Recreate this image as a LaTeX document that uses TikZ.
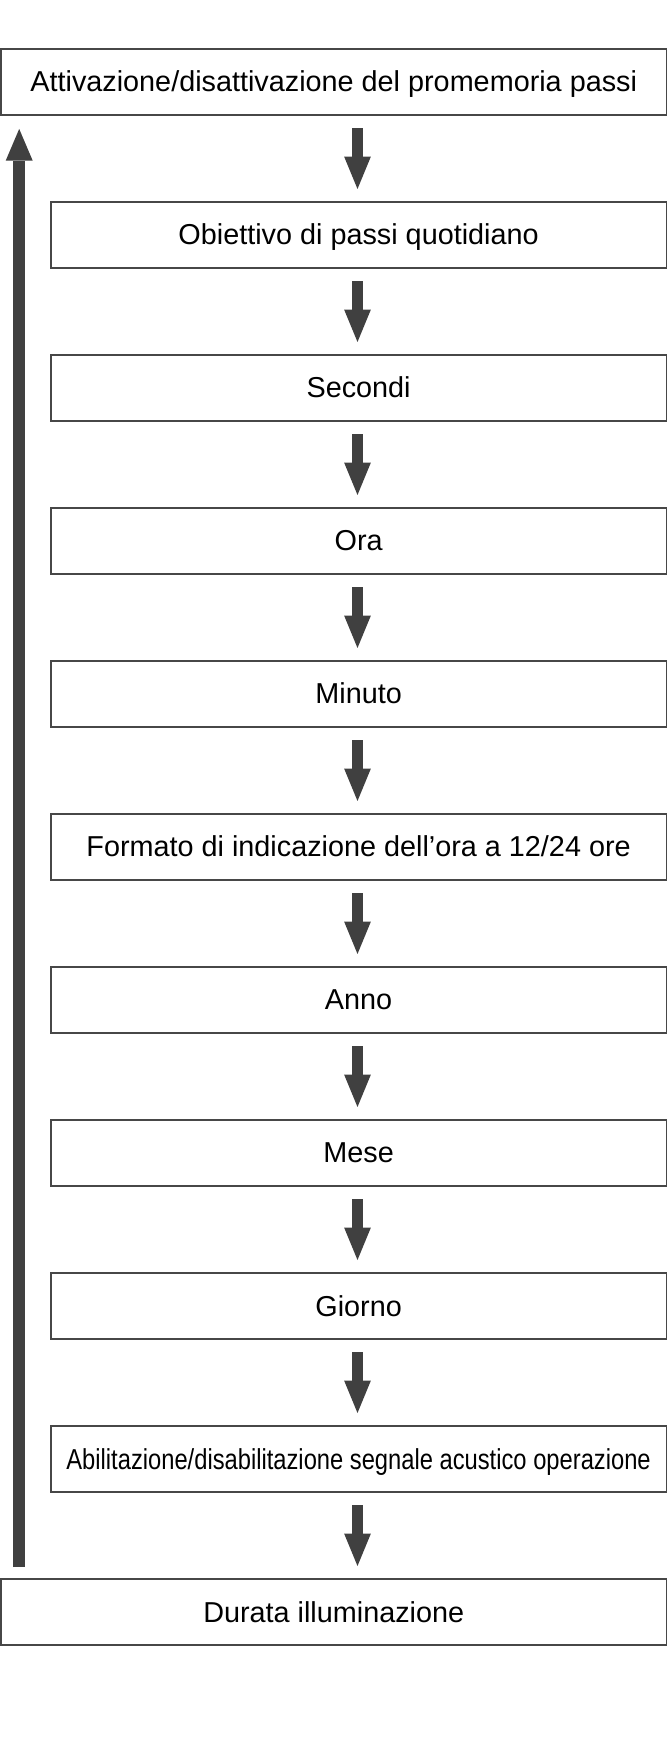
\documentclass[tikz,border=0pt]{standalone}
\usepackage{fontspec}
\usepackage{graphicx}
\setmainfont{Liberation Sans}
\usetikzlibrary{arrows.meta}
\definecolor{boxline}{HTML}{474747}
\definecolor{arrowgray}{HTML}{404040}
\begin{document}
\begin{tikzpicture}[x=0.75pt,y=-0.75pt,
  box/.style={draw=boxline, line width=1.4pt, fill=white, inner sep=0pt,
    text height=15.5pt, text depth=0pt, minimum height=49.5pt,
    font=\fontsize{21.6}{26}\selectfont},
  widebox/.style={box, minimum width=499.1pt},
  narrowbox/.style={box, minimum width=461.85pt},
  flowarrow/.style={draw=arrowgray, line width=8.7pt,
    -{Triangle[width=20pt,length=24.2pt,line width=0pt]},
    shorten <=9.5pt, shorten >=8.8pt},
  backarrow/.style={draw=arrowgray, line width=8.8pt,
    -{Triangle[width=20.25pt,length=23.8pt,line width=0pt]},
    shorten <=8pt, shorten >=10pt},
]
\useasboundingbox (0,0) rectangle (668,1739);
\node[widebox]   (b1)  at (333.75,81.65)  {Attivazione/disattivazione del promemoria passi};
\node[narrowbox] (b2)  at (358.6,234.65)  {Obiettivo di passi quotidiano};
\node[narrowbox] (b3)  at (358.6,387.65)  {Secondi};
\node[narrowbox] (b4)  at (358.6,540.65)  {Ora};
\node[narrowbox] (b5)  at (358.6,693.65)  {Minuto};
\node[narrowbox] (b6)  at (358.6,846.65)  {Formato di indicazione dell’ora a 12/24 ore};
\node[narrowbox] (b7)  at (358.6,999.65)  {Anno};
\node[narrowbox] (b8)  at (358.6,1152.65) {Mese};
\node[narrowbox] (b9)  at (358.6,1305.65) {Giorno};
\node[narrowbox] (b10) at (358.6,1458.65) {\scalebox{0.824}[1]{Abilitazione/disabilitazione segnale acustico operazione}};
\node[widebox]   (b11) at (333.75,1611.65) {Durata illuminazione};
\coordinate (ax) at (357.5,0);
\coordinate (lx) at (19.2,0);
\foreach \a/\b in {b1/b2,b2/b3,b3/b4,b4/b5,b5/b6,b6/b7,b7/b8,b8/b9,b9/b10,b10/b11}
  \draw[flowarrow] (\a.south -| ax) -- (\b.north -| ax);
\draw[backarrow] (b11.north -| lx) -- (b1.south -| lx);
\end{tikzpicture}
\end{document}
